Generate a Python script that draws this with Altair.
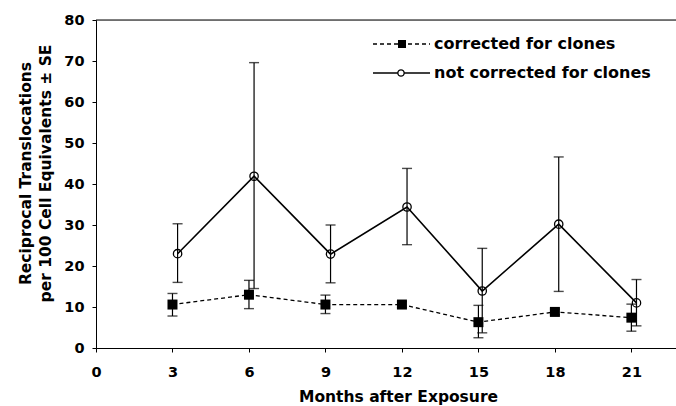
import altair as alt
import pandas as pd

# ---- data ----
months = [3, 6, 9, 12, 15, 18, 21]
# corrected for clones (filled squares)
corr_mean = [10.6, 13.0, 10.6, 10.6, 6.3, 8.8, 7.4]
corr_lo = [7.8, 9.6, 8.4, 9.9, 2.5, 8.1, 4.1]
corr_hi = [13.3, 16.5, 12.9, 11.3, 10.4, 9.5, 10.7]
# not corrected for clones (open circles), plotted slightly right of tick
nc_x = [3.2, 6.2, 9.2, 12.2, 15.15, 18.15, 21.2]
nc_mean = [23.0, 41.9, 22.9, 34.4, 13.9, 30.2, 11.0]
nc_lo = [16.0, 14.5, 15.9, 25.2, 3.7, 13.8, 5.4]
nc_hi = [30.3, 69.6, 30.0, 43.8, 24.3, 46.6, 16.7]

x_ticks = [0, 3, 6, 9, 12, 15, 18, 21]
y_ticks = [0, 10, 20, 30, 40, 50, 60, 70, 80]
legend_labels = ["corrected for clones", "not corrected for clones"]

corr = pd.DataFrame({"x": months, "y": corr_mean, "lo": corr_lo, "hi": corr_hi})
nc = pd.DataFrame({"x": nc_x, "y": nc_mean, "lo": nc_lo, "hi": nc_hi})

FONT = "DejaVu Sans"
W, H = 580, 328

xs = alt.Scale(domain=[0, 22.75], nice=False, zero=False)
ys = alt.Scale(domain=[0, 80], nice=False)

xax = alt.Axis(values=x_ticks, grid=False, title="Months after Exposure",
               titleFontSize=15.5, titleFont=FONT, titleFontWeight="bold",
               labelFont=FONT, labelFontSize=14.5, labelFontWeight="bold",
               labelColor="black", titleColor="black", domainColor="black",
               tickColor="black", tickSize=4, labelPadding=13, titlePadding=11,
               titleX=302, labelFlush=False)
yax = alt.Axis(values=y_ticks, grid=False,
               title=["Reciprocal Translocations", "per 100 Cell Equivalents \u00b1 SE"],
               titleFontSize=15.5, titleFont=FONT, titleFontWeight="bold",
               titleLineHeight=20, titleY=153,
               labelFont=FONT, labelFontSize=14.5, labelFontWeight="bold",
               labelColor="black", titleColor="black", domainColor="black",
               tickColor="black", tickSize=4, labelPadding=8, titlePadding=10)

base_c = alt.Chart(corr)
base_n = alt.Chart(nc)

X = alt.X("x:Q", scale=xs, axis=xax)
Y = lambda f: alt.Y(f, scale=ys, axis=yax)

def errbars(base):
    rule = base.mark_rule(color="black", strokeWidth=1.2).encode(
        x=X, y=Y("lo:Q"), y2="hi:Q")
    cap_lo = base.mark_tick(color="black", orient="horizontal", size=10, thickness=1.4).encode(
        x=X, y=Y("lo:Q"))
    cap_hi = base.mark_tick(color="black", orient="horizontal", size=10, thickness=1.4).encode(
        x=X, y=Y("hi:Q"))
    return rule + cap_lo + cap_hi

line_c = base_c.mark_line(color="black", strokeWidth=1.3, strokeDash=[4, 3]).encode(
    x=X, y=Y("y:Q"))
line_n = base_n.mark_line(color="black", strokeWidth=1.6).encode(
    x=X, y=Y("y:Q"))
pts_c = base_c.mark_point(shape="square", filled=True, color="black", size=100, opacity=1).encode(
    x=X, y=Y("y:Q"))
pts_n = base_n.mark_point(shape="circle", filled=False, color="black", size=70,
                          strokeWidth=1.3, opacity=1).encode(
    x=X, y=Y("y:Q"))

one = alt.Chart(pd.DataFrame({"a": [0]}))
top_frame = one.mark_rule(color="black", strokeWidth=1.2).encode(
    x=alt.value(0), x2=alt.value(W), y=alt.value(0))

# legend (drawn manually)
leg_line1 = one.mark_rule(color="black", strokeWidth=1.3, strokeDash=[4, 3]).encode(
    x=alt.value(277), x2=alt.value(334), y=alt.value(24))
leg_sq = one.mark_point(shape="square", filled=True, color="black", size=64, opacity=1).encode(
    x=alt.value(306), y=alt.value(24))
leg_line2 = one.mark_rule(color="black", strokeWidth=1.6).encode(
    x=alt.value(277), x2=alt.value(334), y=alt.value(53))
leg_circ = one.mark_point(shape="circle", filled=True, fill="white", stroke="black",
                          size=40, strokeWidth=1.3, opacity=1).encode(
    x=alt.value(305), y=alt.value(53))
txt = dict(align="left", baseline="middle", font=FONT, fontSize=16,
           fontWeight="bold", color="black")
leg_text1 = one.mark_text(text=legend_labels[0], **txt).encode(
    x=alt.value(338), y=alt.value(24))
leg_text2 = one.mark_text(text=legend_labels[1], **txt).encode(
    x=alt.value(338), y=alt.value(53))

chart = alt.layer(
    errbars(base_c), errbars(base_n), line_c, line_n, pts_c, pts_n,
    top_frame, leg_line1, leg_sq, leg_line2, leg_circ, leg_text1, leg_text2
).properties(
    width=W, height=H,
    autosize=alt.AutoSizeParams(type="none"),
    padding={"left": 96, "top": 20, "right": 0, "bottom": 58},
).configure_view(stroke=None).configure(background="white")

chart.save("out.html", embed_options={"renderer": "svg", "actions": False})
